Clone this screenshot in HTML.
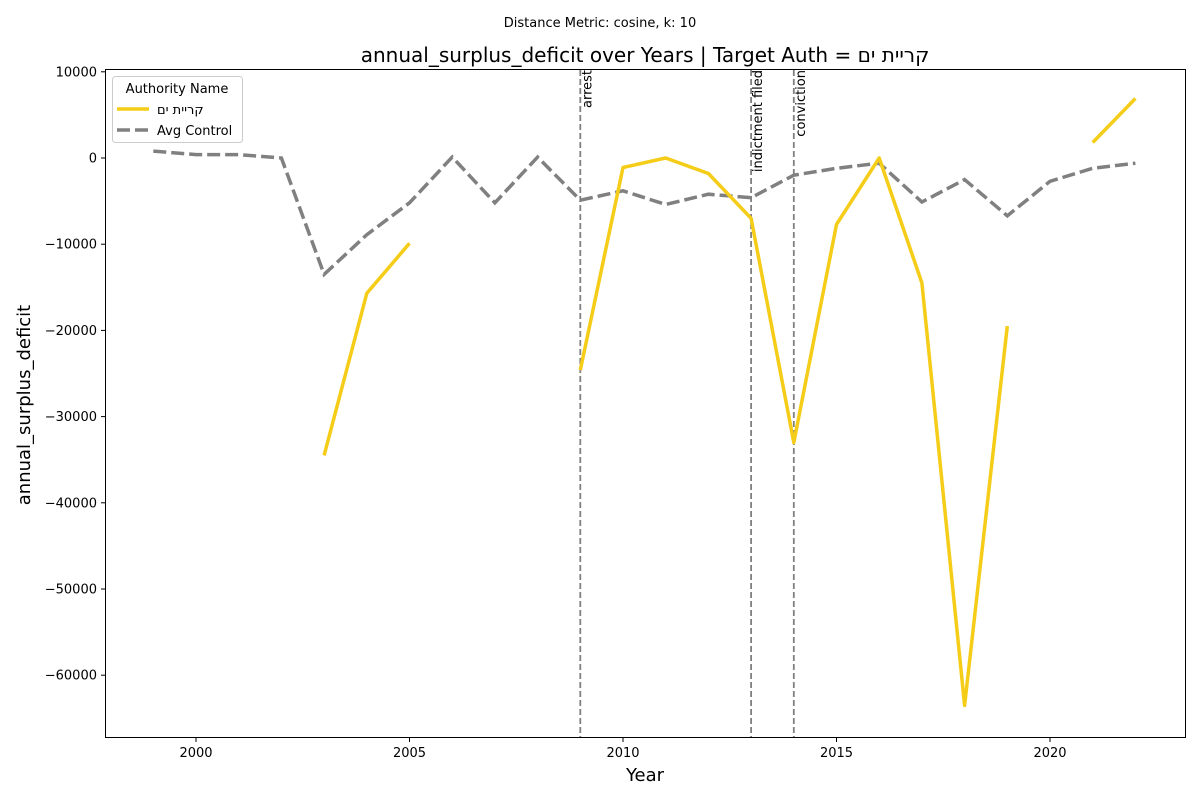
<!DOCTYPE html>
<html><head><meta charset="utf-8"><style>
body{margin:0;background:#fff;}
svg text{font-family:"DejaVu Sans","Liberation Sans",sans-serif;}
</style></head><body>
<svg id="chart" width="1200" height="800">
<text x="600" y="27" font-size="13" text-anchor="middle">Distance Metric: cosine, k: 10</text>
<text x="645" y="62" font-size="20" text-anchor="middle">annual_surplus_deficit over Years | Target Auth = <tspan>קריית ים</tspan></text>
<g id="plot"></g>
<rect x="105.5" y="69.5" width="1080" height="668" fill="none" stroke="#000" stroke-width="1"/>
<text x="645" y="781" font-size="18" text-anchor="middle">Year</text>
<text transform="translate(30,405) rotate(-90)" font-size="18" text-anchor="middle">annual_surplus_deficit</text>
<g>
<rect x="112.5" y="76.5" width="130" height="66" rx="3" fill="#fff" fill-opacity="0.8" stroke="#ccc"/>
<text x="177" y="93" font-size="13" text-anchor="middle">Authority Name</text>
<line x1="117" y1="109" x2="149" y2="109" stroke="#f5cd19" stroke-width="3.5"/>
<text x="157" y="114" font-size="13"><tspan>קריית ים</tspan></text>
<line x1="117" y1="130" x2="149" y2="130" stroke="#808080" stroke-width="3.5" stroke-dasharray="13,5"/>
<text x="157" y="135" font-size="13">Avg Control</text>
</g>
</svg>
<script>
const targetYears=[2003,2004,2005,null,2009,2010,2011,2012,2013,2014,2015,2016,2017,2018,2019,null,2021,2022];
const targetValues=[-34500,-15700,-9900,null,-24600,-1100,0,-1800,-7000,-33000,-7700,0,-14500,-63500,-19500,null,1800,6900];
const avgYears=[1999,2000,2001,2002,2003,2004,2005,2006,2007,2008,2009,2010,2011,2012,2013,2014,2015,2016,2017,2018,2019,2020,2021,2022];
const avgValues=[800,400,400,0,-13500,-8900,-5200,100,-5200,100,-4900,-3800,-5400,-4200,-4600,-2000,-1200,-600,-5100,-2500,-6700,-2700,-1200,-600];
const xTicks=[2000,2005,2010,2015,2020];
const yTicks=[10000,0,-10000,-20000,-30000,-40000,-50000,-60000];
const eventYears=[2009,2013,2014];
const eventLabels=["arrest","indictment filed","conviction"];
const NS="http://www.w3.org/2000/svg";
const g=document.getElementById('plot');
const X=v=>196+(v-2000)*42.7;
const Y=v=>158-v*0.00862;
function mk(t,a){const e=document.createElementNS(NS,t);for(const k in a)e.setAttribute(k,a[k]);g.appendChild(e);return e;}
xTicks.forEach(t=>{
 const l=mk('line',{x1:X(t),x2:X(t),y1:737.5,y2:742,stroke:'#000'});
 
 
 const tx=mk('text',{x:X(t),y:757,'font-size':13,'text-anchor':'middle'});tx.textContent=t;
 
 
});
yTicks.forEach(t=>{
 const l=mk('line',{x1:101,x2:105.5,y1:Y(t),y2:Y(t),stroke:'#000'});
 
 
 const tx=mk('text',{x:97,y:Y(t)+4.5,'font-size':13,'text-anchor':'end'});tx.textContent=(t<0?'\u2212':'')+Math.abs(t);
 
 
});
eventYears.forEach((yr,i)=>{
 const l=mk('line',{x1:X(yr),x2:X(yr),y1:70,y2:737,stroke:'#808080','stroke-width':1.8,'stroke-dasharray':'6,3'});
 
 
 const tx=mk('text',{transform:`translate(${X(yr)+11},70) rotate(-90)`,'font-size':13,'text-anchor':'end'});tx.textContent=eventLabels[i];
 
 
});
function path(xs,vs){let d='',pen=false;xs.forEach((x,i)=>{if(x===null||vs[i]===null){pen=false;return;}d+=(pen?'L':'M')+X(x).toFixed(1)+','+Y(vs[i]).toFixed(1);pen=true;});return d;}
const a=mk('path',{d:path(avgYears,avgValues),fill:'none',stroke:'#808080','stroke-width':3.5,'stroke-dasharray':'13,5'});


const t=mk('path',{d:path(targetYears,targetValues),fill:'none',stroke:'#f5cd19','stroke-width':3.5,'stroke-linejoin':'round'});


</script>
</body></html>
